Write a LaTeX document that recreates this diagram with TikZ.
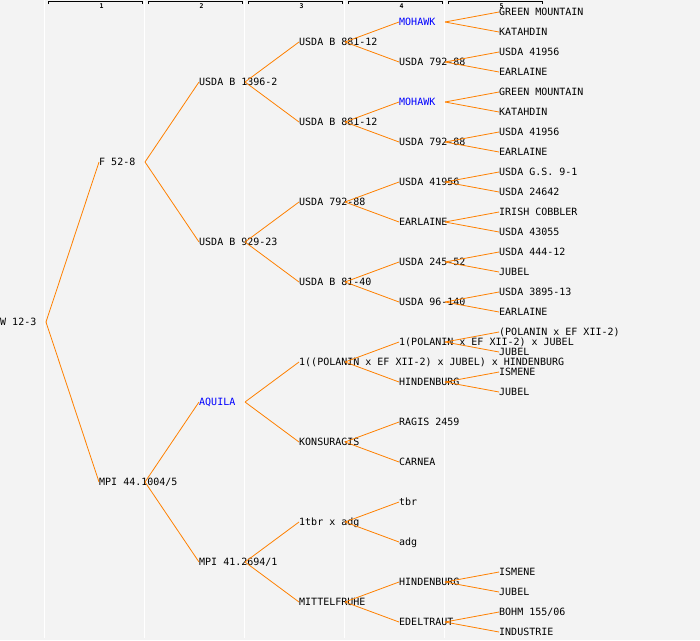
\documentclass[tikz,border=0pt]{standalone}
\usepackage{fontspec}
\setmonofont{DejaVu Sans Mono}
\definecolor{linkorange}{RGB}{255,128,0}
\definecolor{paper}{RGB}{243,243,243}

\begin{document}
\begin{tikzpicture}[x=1pt, y=-1pt]
\tikzstyle{node_style} = [anchor=west, inner sep=0pt, text height=7.3pt, text depth=0pt, font=\ttfamily\fontsize{10}{12}\selectfont]
\tikzstyle{blue_style} = [node_style, text=blue]
\tikzstyle{edge_style} = [draw=linkorange, line width=0.8pt]
\tikzstyle{rule_style} = [draw=white, line width=1pt]
\tikzstyle{bracket_style} = [draw=black, line width=0.9pt]
\tikzstyle{gen_style} = [inner sep=0pt, font=\ttfamily\bfseries\fontsize{6.5}{7}\selectfont]

\useasboundingbox (0,0) rectangle (700,640);
\fill[paper] (0,0) rectangle (700,640);

% column rules
\draw[rule_style] (44.5,0) -- (44.5,638);
\draw[rule_style] (144.5,0) -- (144.5,638);
\draw[rule_style] (244.5,0) -- (244.5,638);
\draw[rule_style] (344.5,0) -- (344.5,638);
\draw[rule_style] (444.5,0) -- (444.5,638);

% generation headers
\draw[bracket_style] (48,4) -- (48,1.5) -- (142.5,1.5) -- (142.5,4);
\draw[bracket_style] (148,4) -- (148,1.5) -- (242.5,1.5) -- (242.5,4);
\draw[bracket_style] (248,4) -- (248,1.5) -- (342.5,1.5) -- (342.5,4);
\draw[bracket_style] (348,4) -- (348,1.5) -- (442.5,1.5) -- (442.5,4);
\draw[bracket_style] (448,4) -- (448,1.5) -- (542.5,1.5) -- (542.5,4);
\node[gen_style] (g1) at (101.5,6) {1};
\node[gen_style] (g2) at (201.5,6) {2};
\node[gen_style] (g3) at (301.5,6) {3};
\node[gen_style] (g4) at (401.5,6) {4};
\node[gen_style] (g5) at (501.5,6) {5};

% generation 0 and 1
\node[node_style] (v1) at (0,322) {W 12-3};
\node[node_style] (v2) at (99,162) {F 52-8};
\node[node_style] (v3) at (99,482) {MPI 44.1004/5};

% generation 2
\node[node_style] (v4) at (199,82) {USDA B 1396-2};
\node[node_style] (v5) at (199,242) {USDA B 929-23};
\node[blue_style] (v6) at (199,402) {AQUILA};
\node[node_style] (v7) at (199,562) {MPI 41.2694/1};

% generation 3
\node[node_style] (v8) at (299,42) {USDA B 881-12};
\node[node_style] (v9) at (299,122) {USDA B 881-12};
\node[node_style] (v10) at (299,202) {USDA 792-88};
\node[node_style] (v11) at (299,282) {USDA B 81-40};
\node[node_style] (v12) at (299,362) {1((POLANIN x EF XII-2) x JUBEL) x HINDENBURG};
\node[node_style] (v13) at (299,442) {KONSURAGIS};
\node[node_style] (v14) at (299,522) {1tbr x adg};
\node[node_style] (v15) at (299,602) {MITTELFRUHE};

% generation 4
\node[blue_style] (v16) at (399,22) {MOHAWK};
\node[node_style] (v17) at (399,62) {USDA 792-88};
\node[blue_style] (v18) at (399,102) {MOHAWK};
\node[node_style] (v19) at (399,142) {USDA 792-88};
\node[node_style] (v20) at (399,182) {USDA 41956};
\node[node_style] (v21) at (399,222) {EARLAINE};
\node[node_style] (v22) at (399,262) {USDA 245-52};
\node[node_style] (v23) at (399,302) {USDA 96-140};
\node[node_style] (v24) at (399,342) {1(POLANIN x EF XII-2) x JUBEL};
\node[node_style] (v25) at (399,382) {HINDENBURG};
\node[node_style] (v26) at (399,422) {RAGIS 2459};
\node[node_style] (v27) at (399,462) {CARNEA};
\node[node_style] (v28) at (399,502) {tbr};
\node[node_style] (v29) at (399,542) {adg};
\node[node_style] (v30) at (399,582) {HINDENBURG};
\node[node_style] (v31) at (399,622) {EDELTRAUT};

% generation 5
\node[node_style] (v32) at (499,12) {GREEN MOUNTAIN};
\node[node_style] (v33) at (499,32) {KATAHDIN};
\node[node_style] (v34) at (499,52) {USDA 41956};
\node[node_style] (v35) at (499,72) {EARLAINE};
\node[node_style] (v36) at (499,92) {GREEN MOUNTAIN};
\node[node_style] (v37) at (499,112) {KATAHDIN};
\node[node_style] (v38) at (499,132) {USDA 41956};
\node[node_style] (v39) at (499,152) {EARLAINE};
\node[node_style] (v40) at (499,172) {USDA G.S. 9-1};
\node[node_style] (v41) at (499,192) {USDA 24642};
\node[node_style] (v42) at (499,212) {IRISH COBBLER};
\node[node_style] (v43) at (499,232) {USDA 43055};
\node[node_style] (v44) at (499,252) {USDA 444-12};
\node[node_style] (v45) at (499,272) {JUBEL};
\node[node_style] (v46) at (499,292) {USDA 3895-13};
\node[node_style] (v47) at (499,312) {EARLAINE};
\node[node_style] (v48) at (499,332) {(POLANIN x EF XII-2)};
\node[node_style] (v49) at (499,352) {JUBEL};
\node[node_style] (v50) at (499,372) {ISMENE};
\node[node_style] (v51) at (499,392) {JUBEL};
\node[node_style] (v52) at (499,572) {ISMENE};
\node[node_style] (v53) at (499,592) {JUBEL};
\node[node_style] (v54) at (499,612) {BOHM 155/06};
\node[node_style] (v55) at (499,632) {INDUSTRIE};

% parent links
\draw[edge_style] ([xshift=46pt]v1.west) edge (v2.west);
\draw[edge_style] ([xshift=46pt]v1.west) edge (v3.west);
\draw[edge_style] ([xshift=46pt]v2.west) edge (v4.west);
\draw[edge_style] ([xshift=46pt]v2.west) edge (v5.west);
\draw[edge_style] ([xshift=46pt]v3.west) edge (v6.west);
\draw[edge_style] ([xshift=46pt]v3.west) edge (v7.west);

\draw[edge_style] ([xshift=46pt]v4.west) edge (v8.west);
\draw[edge_style] ([xshift=46pt]v4.west) edge (v9.west);
\draw[edge_style] ([xshift=46pt]v5.west) edge (v10.west);
\draw[edge_style] ([xshift=46pt]v5.west) edge (v11.west);
\draw[edge_style] ([xshift=46pt]v6.west) edge (v12.west);
\draw[edge_style] ([xshift=46pt]v6.west) edge (v13.west);
\draw[edge_style] ([xshift=46pt]v7.west) edge (v14.west);
\draw[edge_style] ([xshift=46pt]v7.west) edge (v15.west);

\draw[edge_style] ([xshift=46pt]v8.west) edge (v16.west);
\draw[edge_style] ([xshift=46pt]v8.west) edge (v17.west);
\draw[edge_style] ([xshift=46pt]v9.west) edge (v18.west);
\draw[edge_style] ([xshift=46pt]v9.west) edge (v19.west);
\draw[edge_style] ([xshift=46pt]v10.west) edge (v20.west);
\draw[edge_style] ([xshift=46pt]v10.west) edge (v21.west);
\draw[edge_style] ([xshift=46pt]v11.west) edge (v22.west);
\draw[edge_style] ([xshift=46pt]v11.west) edge (v23.west);
\draw[edge_style] ([xshift=46pt]v12.west) edge (v24.west);
\draw[edge_style] ([xshift=46pt]v12.west) edge (v25.west);
\draw[edge_style] ([xshift=46pt]v13.west) edge (v26.west);
\draw[edge_style] ([xshift=46pt]v13.west) edge (v27.west);
\draw[edge_style] ([xshift=46pt]v14.west) edge (v28.west);
\draw[edge_style] ([xshift=46pt]v14.west) edge (v29.west);
\draw[edge_style] ([xshift=46pt]v15.west) edge (v30.west);
\draw[edge_style] ([xshift=46pt]v15.west) edge (v31.west);

\draw[edge_style] ([xshift=46pt]v16.west) edge (v32.west);
\draw[edge_style] ([xshift=46pt]v16.west) edge (v33.west);
\draw[edge_style] ([xshift=46pt]v17.west) edge (v34.west);
\draw[edge_style] ([xshift=46pt]v17.west) edge (v35.west);
\draw[edge_style] ([xshift=46pt]v18.west) edge (v36.west);
\draw[edge_style] ([xshift=46pt]v18.west) edge (v37.west);
\draw[edge_style] ([xshift=46pt]v19.west) edge (v38.west);
\draw[edge_style] ([xshift=46pt]v19.west) edge (v39.west);
\draw[edge_style] ([xshift=46pt]v20.west) edge (v40.west);
\draw[edge_style] ([xshift=46pt]v20.west) edge (v41.west);
\draw[edge_style] ([xshift=46pt]v21.west) edge (v42.west);
\draw[edge_style] ([xshift=46pt]v21.west) edge (v43.west);
\draw[edge_style] ([xshift=46pt]v22.west) edge (v44.west);
\draw[edge_style] ([xshift=46pt]v22.west) edge (v45.west);
\draw[edge_style] ([xshift=46pt]v23.west) edge (v46.west);
\draw[edge_style] ([xshift=46pt]v23.west) edge (v47.west);
\draw[edge_style] ([xshift=46pt]v24.west) edge (v48.west);
\draw[edge_style] ([xshift=46pt]v24.west) edge (v49.west);
\draw[edge_style] ([xshift=46pt]v25.west) edge (v50.west);
\draw[edge_style] ([xshift=46pt]v25.west) edge (v51.west);
\draw[edge_style] ([xshift=46pt]v30.west) edge (v52.west);
\draw[edge_style] ([xshift=46pt]v30.west) edge (v53.west);
\draw[edge_style] ([xshift=46pt]v31.west) edge (v54.west);
\draw[edge_style] ([xshift=46pt]v31.west) edge (v55.west);
\end{tikzpicture}
\end{document}
